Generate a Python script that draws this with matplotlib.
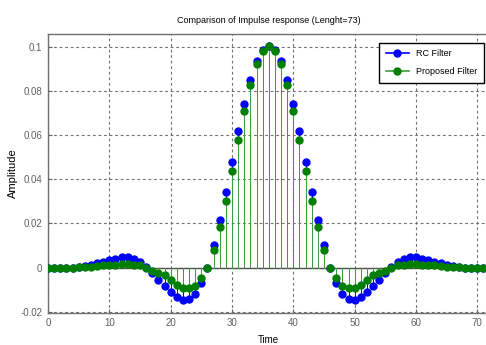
import numpy as np
import matplotlib
matplotlib.use("Agg")
import matplotlib.pyplot as plt
from matplotlib.lines import Line2D
from matplotlib.ticker import FuncFormatter

plt.rcParams["font.family"] = ["Liberation Sans", "DejaVu Sans"]

# sample index 0..72
n = np.arange(73)

rc_filter = [
    0.0, 0.0, -0.0002, -0.0002, 0.0, 0.0003, 0.0007, 0.0012, 0.0019, 0.0027,
    0.0034, 0.0041, 0.0046, 0.0047, 0.0041, 0.0025, 0.0003, -0.0024, -0.0056, -0.0082,
    -0.0111, -0.0135, -0.0147, -0.0140, -0.0120, -0.0069, 0.0, 0.0102, 0.0215, 0.0343,
    0.0480, 0.0617, 0.0740, 0.0849, 0.0935, 0.0985, 0.1003,
    0.0985, 0.0935, 0.0849, 0.0740, 0.0617, 0.0480, 0.0343, 0.0215, 0.0102, 0.0,
    -0.0069, -0.0120, -0.0140, -0.0147, -0.0135, -0.0111, -0.0082, -0.0056, -0.0024, 0.0003,
    0.0025, 0.0041, 0.0047, 0.0046, 0.0041, 0.0034, 0.0027, 0.0019, 0.0012, 0.0007,
    0.0003, 0.0, -0.0002, -0.0002, 0.0, 0.0,
]

proposed_filter = [
    0.0, 0.0, 0.0, 0.0, 0.0, 0.0001, 0.0002, 0.0005, 0.0008, 0.0010,
    0.0012, 0.0013, 0.0015, 0.0015, 0.0013, 0.0010, 0.0, -0.0015, -0.0025, -0.0035,
    -0.0056, -0.0079, -0.0091, -0.0090, -0.0082, -0.0049, 0.0, 0.0082, 0.0183, 0.0303,
    0.0437, 0.0577, 0.0710, 0.0826, 0.0920, 0.0982, 0.1003,
    0.0982, 0.0920, 0.0826, 0.0710, 0.0577, 0.0437, 0.0303, 0.0183, 0.0082, 0.0,
    -0.0049, -0.0082, -0.0090, -0.0091, -0.0079, -0.0056, -0.0035, -0.0025, -0.0015, 0.0,
    0.0010, 0.0013, 0.0015, 0.0015, 0.0013, 0.0012, 0.0010, 0.0008, 0.0005, 0.0002,
    0.0001, 0.0, 0.0, 0.0, 0.0, 0.0,
]

x_ticks = [0, 10, 20, 30, 40, 50, 60, 70]
y_ticks = [-0.02, 0, 0.02, 0.04, 0.06, 0.08, 0.1]

blue = "#0000ff"
green = "#007f00"
stem_green = "#3f9a3f"
msize = 5

fig = plt.figure(figsize=(4.86, 3.45), dpi=100)
ax = fig.add_axes([0.0988, 0.0936, 0.9086, 0.807])

m1, s1, b1 = ax.stem(n, rc_filter, basefmt=" ")
m1.set_color(blue)
m1.set_markersize(msize)
s1.set_color(blue)
s1.set_linewidth(0.72)
s1.set_antialiased(False)
s1.set_zorder(1.6)

m2, s2, b2 = ax.stem(n, proposed_filter, basefmt=" ")
m2.set_color(green)
m2.set_markersize(msize)
s2.set_color(stem_green)
s2.set_linewidth(0.72)
s2.set_antialiased(False)
s2.set_zorder(1.8)

# baseline under markers
ax.axhline(0, color="#505050", lw=1.0, zorder=1.5)
m1.set_zorder(3)
m2.set_zorder(4)

ax.set_xlim(0, 72)
ax.set_ylim(-0.0204, 0.1056)
ax.set_xticks(x_ticks)
ax.set_yticks(y_ticks)
ax.yaxis.set_major_formatter(FuncFormatter(lambda v, p: "0" if abs(v) < 1e-9 else f"{v:g}"))
ax.tick_params(direction="in", length=3, labelsize=7, colors="#606060", labelcolor="#606060", pad=4)
for sp in ax.spines.values():
    sp.set_color("#707070")
    sp.set_linewidth(1.0)
ax.grid(True, color="#707070", linestyle=(0, (2.5, 2.5)), linewidth=0.8)
ax.set_axisbelow(True)

ax.set_title("Comparison of Impulse response (Lenght=73)", fontsize=6.5, pad=8)
ax.set_xlabel("Time", fontsize=7, labelpad=5)
ax.set_ylabel("Amplitude", fontsize=8, labelpad=2)

handles = [
    Line2D([], [], color=blue, marker="o", markersize=msize, lw=1.2, label="RC Filter"),
    Line2D([], [], color=stem_green, marker="o", markerfacecolor=green,
           markeredgecolor=green, markersize=msize, lw=1.2, label="Proposed Filter"),
]
leg = ax.legend(handles=handles, loc="upper right", bbox_to_anchor=(0.987, 0.969),
                borderaxespad=0, fontsize=6.5, numpoints=1, handlelength=2.6,
                handletextpad=0.8, fancybox=False, framealpha=1, edgecolor="black",
                borderpad=0.7, labelspacing=1.0)
leg.get_frame().set_linewidth(1.0)

fig.savefig("out.png", dpi=100)
